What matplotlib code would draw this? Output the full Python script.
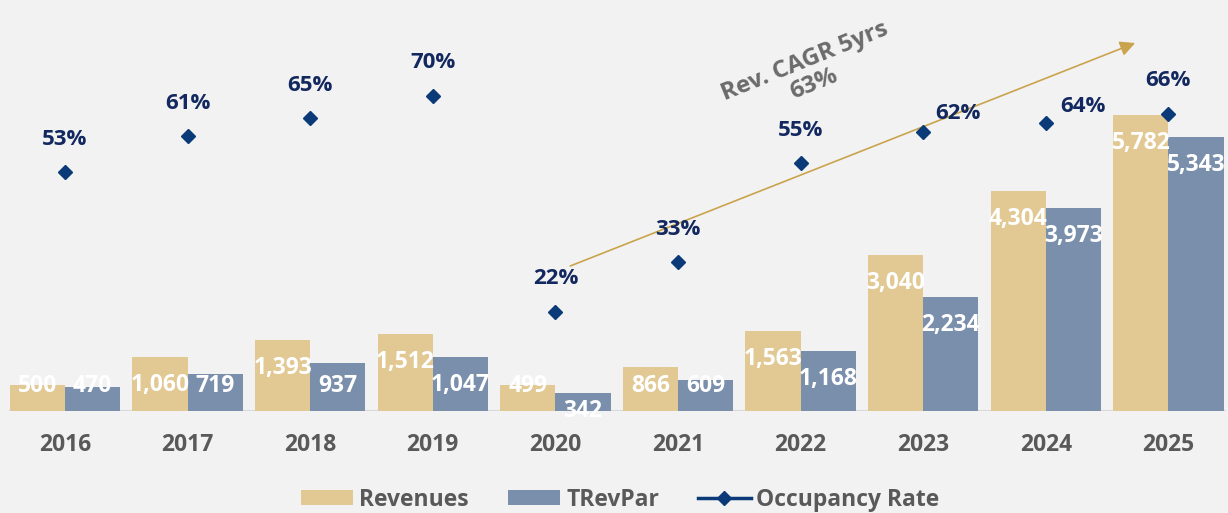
import matplotlib
matplotlib.use('Agg')
import matplotlib.pyplot as plt
from matplotlib.lines import Line2D
import numpy as np

plt.rcParams['font.family'] = ['Open Sans', 'DejaVu Sans']
plt.rcParams['font.weight'] = 'bold'

# data
years = ['2016', '2017', '2018', '2019', '2020', '2021', '2022', '2023', '2024', '2025']
revenues = [500, 1060, 1393, 1512, 499, 866, 1563, 3040, 4304, 5782]
trevpar = [470, 719, 937, 1047, 342, 609, 1168, 2234, 3973, 5343]
occupancy = [53, 61, 65, 70, 22, 33, 55, 62, 64, 66]

c_rev = '#e2c993'
c_trp = '#7a8fac'
c_occ = '#0b3a78'
c_pct = '#13285f'
c_gray = '#595959'
bg = '#f2f2f2'

fig = plt.figure(figsize=(12.28, 5.13), dpi=100, facecolor=bg)
ax = fig.add_axes([0, 1 - 411 / 513, 1, 411 / 513])
ax.set_facecolor('none')
ax2 = ax.twinx()

x = np.arange(len(years))
w = 0.45
b1 = ax.bar(x - w / 2, revenues, w, color=c_rev, label='Revenues', zorder=2)
b2 = ax.bar(x + w / 2, trevpar, w, color=c_trp, label='TRevPar', zorder=2)

ax.set_xlim(-0.53, 9.486)
ax.set_ylim(0, 8027)
ax2.set_ylim(0, 91.33)

fs = 16.5

# bar value labels (inside the top of bar, kept above the baseline)
for xs, vals in [(x - w / 2, revenues), (x + w / 2, trevpar)]:
    for xi, v in zip(xs, vals):
        if v < 400:
            y = 0
        else:
            y = max(v - 547, 488)
        ax.text(xi, y, f'{v:,}', ha='center', va='center', color='white',
                fontsize=fs, fontweight='bold', zorder=4)

# occupancy markers and labels
ax2.plot(x, occupancy, ls='none', marker='D', ms=7.5, color=c_occ, zorder=5)
label_shift = {7: (35, 18), 8: (37, 16)}
for i, p in enumerate(occupancy):
    dx, dy = label_shift.get(i, (0, 33))
    ax2.annotate(f'{p}%', (x[i], p), xytext=(dx * 0.72, dy * 0.72),
                 textcoords='offset points', ha='center', va='center',
                 color=c_pct, fontsize=16, fontweight='bold')

# CAGR arrow
ax.annotate('', xy=(8.75, 7207), xytext=(4.10, 2812),
            arrowprops=dict(arrowstyle='-|>,head_length=0.9,head_width=0.45',
                            color='#c9a44c', lw=1.2), zorder=3)
ax.text(6.07, 6600, 'Rev. CAGR 5yrs\n63%', rotation=22, ha='center', va='center',
        color='#6b6b6b', fontsize=17.5, fontweight='bold', linespacing=1.0,
        rotation_mode='anchor')

ax.axhline(0, xmin=10 / 1228, xmax=1225 / 1228, color='#d9d9d9', lw=1.5, zorder=1)

ax.set_xticks(x)
ax.set_xticklabels(years, fontsize=fs, fontweight='bold', color=c_gray)
ax.tick_params(axis='x', length=0, pad=16)
ax.set_yticks([])
ax2.set_yticks([])
for a in (ax, ax2):
    for s in a.spines.values():
        s.set_visible(False)

handles = [b1, b2,
           Line2D([], [], color=c_occ, marker='D', ms=7.5, lw=2.5)]
fig.legend(handles, ['Revenues', 'TRevPar', 'Occupancy Rate'], loc='lower center',
           bbox_to_anchor=(0.505, -0.038), ncol=3, frameon=False,
           prop={'size': fs, 'weight': 'bold'}, labelcolor=c_gray,
           handlelength=2.3, handleheight=0.65, handletextpad=0.25, columnspacing=1.7)

fig.savefig('out.png', dpi=100, facecolor=bg)
